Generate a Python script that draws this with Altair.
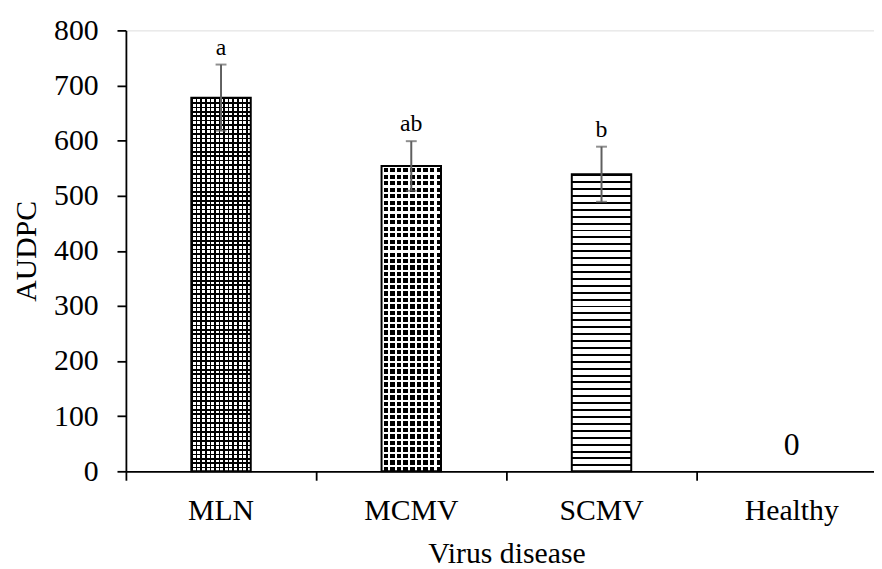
import altair as alt
import pandas as pd

categories = ["MLN", "MCMV", "SCMV", "Healthy"]
audpc = [678, 554, 539, 0]
errors = [60, 45, 50, 0]
letters = ["a", "ab", "b", ""]
y_ticks = [0, 100, 200, 300, 400, 500, 600, 700, 800]

df = pd.DataFrame({
    "category": categories,
    "value": audpc,
    "err": errors,
    "letter": letters,
})
df["lo"] = df["value"] - df["err"]
df["hi"] = df["value"] + df["err"]

FONT = "Liberation Serif"
PLOT_H = 445
BAR_W = 60


def stripes(n, frac, c_on, c_off, vertical_dir):
    stops = []
    for k in range(n):
        a = k / n
        b = (k + frac) / n
        c = (k + 1) / n
        stops += [alt.GradientStop(offset=a, color=c_on),
                  alt.GradientStop(offset=b, color=c_on),
                  alt.GradientStop(offset=b, color=c_off),
                  alt.GradientStop(offset=c, color=c_off)]
    if vertical_dir:
        return alt.LinearGradient(gradient="linear", stops=stops, x1=0, x2=0, y1=0, y2=1)
    return alt.LinearGradient(gradient="linear", stops=stops, x1=0, x2=1, y1=0, y2=0)


CLEAR = "rgba(255,255,255,0)"

x_enc = alt.X(
    "category:N",
    sort=categories,
    scale=alt.Scale(domain=categories, range=[0, 768], paddingInner=0, paddingOuter=0),
    axis=alt.Axis(
        title="Virus disease",
        labelAngle=0,
        bandPosition=0,
        labelFont=FONT, labelFontSize=30, labelColor="black",
        labelPadding=16,
        titleFont=FONT, titleFontSize=30, titleFontWeight="normal", titleColor="black",
        titleY=92, titleBaseline="alphabetic",
        domainColor="black", domainWidth=1.8,
        tickColor="black", tickWidth=1.8, tickSize=9,
        grid=False,
    ),
)
y_enc = alt.Y(
    "value:Q",
    scale=alt.Scale(domain=[0, 800], nice=False),
    axis=alt.Axis(
        title="AUDPC",
        values=y_ticks,
        labelFont=FONT, labelFontSize=30, labelColor="black",
        labelPadding=19,
        titleFont=FONT, titleFontSize=30, titleFontWeight="normal", titleColor="black",
        titleAngle=270, titleX=-91, titleY=PLOT_H / 2, titleAlign="center",
        titleBaseline="alphabetic",
        domainColor="black", domainWidth=1.8,
        tickColor="black", tickWidth=1.8, tickSize=9,
        grid=False,
    ),
)

base = alt.Chart(df)
layers = []


def bar(cat, fill):
    return base.transform_filter(alt.datum.category == cat).mark_bar(
        size=BAR_W, fill=fill, strokeWidth=0
    ).encode(x=x_enc, y=y_enc)


px = {c: v * PLOT_H / 800 for c, v in zip(categories, audpc)}

# MLN: fine check pattern
n_v = max(1, round(px["MLN"] / 4.5))
n_h = round(BAR_W / 4.5)
layers += [
    bar("MLN", "white"),
    bar("MLN", stripes(n_v, 0.35, "black", CLEAR, True)),
    bar("MLN", stripes(n_h, 0.35, "black", CLEAR, False)),
]
# MCMV: dotted pattern (black squares on white)
n_v = max(1, round(px["MCMV"] / 6.5))
n_h = round(BAR_W / 6.5)
layers += [
    bar("MCMV", "black"),
    bar("MCMV", stripes(n_v, 0.32, "white", CLEAR, True)),
    bar("MCMV", stripes(n_h, 0.32, "white", CLEAR, False)),
]
# SCMV: wavy lines
n_v = max(1, round(px["SCMV"] / 7))
layers += [
    bar("SCMV", "white"),
    bar("SCMV", stripes(n_v, 0.28, "black", CLEAR, True)),
]

outline = base.transform_filter(alt.datum.value > 0).mark_bar(
    size=BAR_W, fill="white", fillOpacity=0, stroke="black", strokeWidth=2
).encode(x=x_enc, y=y_enc)

err_base = base.transform_filter(alt.datum.err > 0)
err_rule = err_base.mark_rule(color="#5f5f5f", strokeWidth=2).encode(
    x=x_enc, y=alt.Y("lo:Q"), y2="hi:Q"
)
cap_hi = err_base.mark_tick(color="#5f5f5f", thickness=2, size=11, orient="horizontal").encode(
    x=x_enc, y=alt.Y("hi:Q")
)
cap_lo = err_base.mark_tick(color="#5f5f5f", thickness=2, size=11, orient="horizontal").encode(
    x=x_enc, y=alt.Y("lo:Q")
)
letter_text = err_base.mark_text(
    dy=-10, baseline="alphabetic", font=FONT, fontSize=24, color="black"
).encode(x=x_enc, y=alt.Y("hi:Q"), text="letter:N")
zero_text = base.transform_filter(alt.datum.value == 0).mark_text(
    dy=-16, baseline="alphabetic", font=FONT, fontSize=32, color="black"
).encode(x=x_enc, y=y_enc, text="value:Q")

chart = alt.layer(
    *layers, outline, err_rule, cap_hi, cap_lo, letter_text, zero_text
).properties(
    width=755,
    height=PLOT_H,
    padding={"left": 119, "top": 20, "right": 0, "bottom": 96},
    autosize=alt.AutoSizeParams(type="none"),
).configure_view(stroke=None).configure(background="white")

chart.save("out.html", embed_options={"renderer": "svg", "actions": False})
